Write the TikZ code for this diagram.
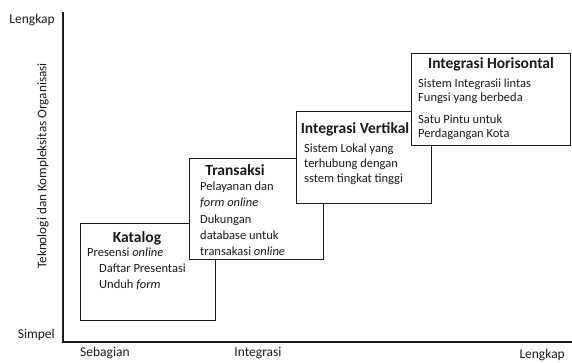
\documentclass[tikz,border=0pt]{standalone}
\usepackage{fontspec}
\setmainfont{Carlito}
\definecolor{inkgray}{HTML}{1A1A1A}
\tikzset{
  stage box/.style={
    rectangle,
    draw=inkgray,
    fill=white,
    line width=1.3pt,
    inner sep=0pt,
    anchor=north west,
  },
  stage title/.style={
    font=\fontsize{15.5}{17}\selectfont\bfseries,
    text=inkgray,
    inner sep=0pt,
    anchor=base,
  },
  stage line/.style={
    font=\fontsize{12.5}{14}\selectfont,
    text=inkgray,
    inner sep=0pt,
    anchor=base west,
  },
  axis label/.style={
    font=\fontsize{13.5}{15}\selectfont,
    text=inkgray,
    inner sep=0pt,
  },
  axis/.style={
    draw=inkgray,
    line width=1.6pt,
  },
}

\begin{document}
\begin{tikzpicture}[x=1pt,y=-1pt]
  \useasboundingbox (0,0) rectangle (572,363);

  % Axes.
  \coordinate (top) at (63,12);
  \coordinate (origin) at (63,342);
  \coordinate (right) at (572,342);
  \draw[axis] (top) -- (origin) -- (right);

  % Axis labels.
  \node[axis label, anchor=east] (ytop) at (55,20) {Lengkap};
  \node[axis label, anchor=east] (ybot) at (55,335) {Simpel};
  \node[axis label, font=\fontsize{13.2}{15}\selectfont, rotate=90] (ytitle) at (43,166) {Teknologi dan Kompleksitas Organisasi};
  \node[axis label, anchor=west] (xleft) at (80,353) {Sebagian};
  \node[axis label] (xmid) at (258,353) {Integrasi};
  \node[axis label, anchor=east] (xright) at (565,355) {Lengkap};

  % Katalog.
  \node[stage box, minimum width=135pt, minimum height=97pt] (katalog) at (80,223) {};
  \node[stage title] (katalogT) at (137,242) {Katalog};
  \node[stage line] (k1) at (87,256) {Presensi \textit{online}};
  \node[stage line] (k2) at (99,272) {Daftar Presentasi};
  \node[stage line] (k3) at (99,288) {Unduh \textit{form}};

  % Transaksi.
  \node[stage box, minimum width=134pt, minimum height=101pt] (transaksi) at (189,158) {};
  \node[stage title] (transaksiT) at (235,176) {Transaksi};
  \node[stage line] (t1) at (200,191) {Pelayanan dan};
  \node[stage line] (t2) at (200,207) {\textit{form online}};
  \node[stage line] (t3) at (200,223) {Dukungan};
  \node[stage line] (t4) at (200,239) {database untuk};
  \node[stage line] (t5) at (200,255) {transakasi \textit{online}};

  % Integrasi Vertikal.
  \node[stage box, minimum width=135pt, minimum height=92pt] (vertikal) at (296,111) {};
  \node[stage title] (vertikalT) at (355,134) {Integrasi Vertikal};
  \node[stage line] (v1) at (304,153) {Sistem Lokal yang};
  \node[stage line] (v2) at (304,168) {terhubung dengan};
  \node[stage line] (v3) at (304,183) {sstem tingkat tinggi};

  % Integrasi Horisontal.
  \node[stage box, minimum width=159pt, minimum height=92pt] (horisontal) at (411,53) {};
  \node[stage title] (horisontalT) at (491,69) {Integrasi Horisontal};
  \node[stage line] (h1) at (418,88) {Sistem Integrasii lintas};
  \node[stage line] (h2) at (418,102) {Fungsi yang berbeda};
  \node[stage line] (h3) at (418,124) {Satu Pintu untuk};
  \node[stage line] (h4) at (418,138) {Perdagangan Kota};
\end{tikzpicture}
\end{document}
